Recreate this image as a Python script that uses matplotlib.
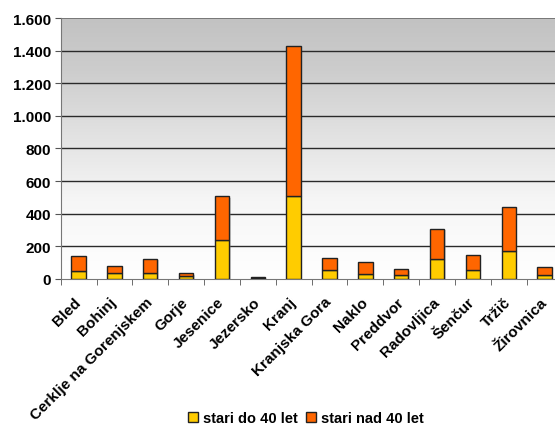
import numpy as np
import matplotlib.pyplot as plt
import matplotlib.transforms as mtransforms
from matplotlib.colors import LinearSegmentedColormap
from matplotlib.ticker import FuncFormatter, FixedLocator

obcine = ["Bled", "Bohinj", "Cerklje na Gorenjskem", "Gorje", "Jesenice", "Jezersko",
          "Kranj", "Kranjska Gora", "Naklo", "Preddvor", "Radovljica", "Šenčur",
          "Tržič", "Žirovnica"]
do40 = [45, 37, 37, 14, 240, 3, 508, 51, 31, 20, 123, 51, 168, 25]
nad40 = [94, 43, 86, 19, 265, 9, 923, 78, 74, 37, 185, 94, 271, 49]
serije = ["stari do 40 let", "stari nad 40 let"]
yticks = [0, 200, 400, 600, 800, 1000, 1200, 1400, 1600]

plt.rcParams["font.family"] = ["Liberation Sans", "DejaVu Sans"]
fig = plt.figure(figsize=(5.55, 4.27), dpi=100)
ax = fig.add_axes([0.1094, 0.345, 0.904, 0.61])

x = np.arange(len(obcine))
ax.set_xlim(-0.5, len(obcine) - 0.5)
ax.set_ylim(0, 1600)

# sivi gradient v ozadju (spodaj belo, zgoraj sivo)
grad = np.linspace(0, 1, 256).reshape(-1, 1)
cm = LinearSegmentedColormap.from_list("g", [(0, "#ffffff"), (0.3, "#f6f6f6"),
                                             (0.55, "#e2e2e2"), (0.8, "#cdcdcd"), (1, "#c2c2c2")])
ax.imshow(grad, extent=[0, 1, 0, 1], transform=ax.transAxes, aspect="auto",
          cmap=cm, origin="lower", zorder=0)

for y in yticks[1:-1]:
    ax.axhline(y, color="#2a2a2a", lw=1.0, zorder=1)
ax.axhline(1600, color="#777777", lw=1.4, zorder=1)

# senca
ax.bar(x + 0.04, np.add(do40, nad40), width=0.4, bottom=-8, color="#888888", alpha=0.35, zorder=2)
ax.bar(x, do40, width=0.4, color="#FFCC00", edgecolor="#222222", lw=1.0, label=serije[0], zorder=3)
ax.bar(x, nad40, width=0.4, bottom=do40, color="#FF6600", edgecolor="#222222", lw=1.0,
       label=serije[1], zorder=3)

ax.set_yticks(yticks)
ax.yaxis.set_major_formatter(FuncFormatter(lambda v, p: f"{int(v):,}".replace(",", ".")))
ax.xaxis.set_major_locator(FixedLocator(x))
ax.set_xticklabels(obcine, rotation=45, ha="right", va="center", rotation_mode="anchor",
                   fontsize=11, fontweight="bold")
off = mtransforms.ScaledTranslation(-9 / 100, -3 / 100, fig.dpi_scale_trans)
for t in ax.get_xticklabels():
    t.set_transform(t.get_transform() + off)
ax.xaxis.set_minor_locator(FixedLocator(np.arange(len(obcine) + 1) - 0.5))
ax.tick_params(axis="x", which="major", length=0, pad=15)
ax.tick_params(axis="x", which="minor", length=4, color="#555555")
ax.tick_params(axis="y", length=4, color="#555555", labelsize=11, pad=3)
for t in ax.get_yticklabels():
    t.set_fontweight("bold")

for s in ["top", "right"]:
    ax.spines[s].set_visible(False)
ax.spines["left"].set_color("#777777")
ax.spines["bottom"].set_color("#777777")

fig.legend(loc="center", bbox_to_anchor=(0.551, 0.019), ncol=2, frameon=False,
           prop={"weight": "bold", "size": 10.5}, handlelength=0.7, handleheight=0.7,
           handletextpad=0.3, columnspacing=0.6, borderpad=0)

fig.savefig("out.png", dpi=100)
